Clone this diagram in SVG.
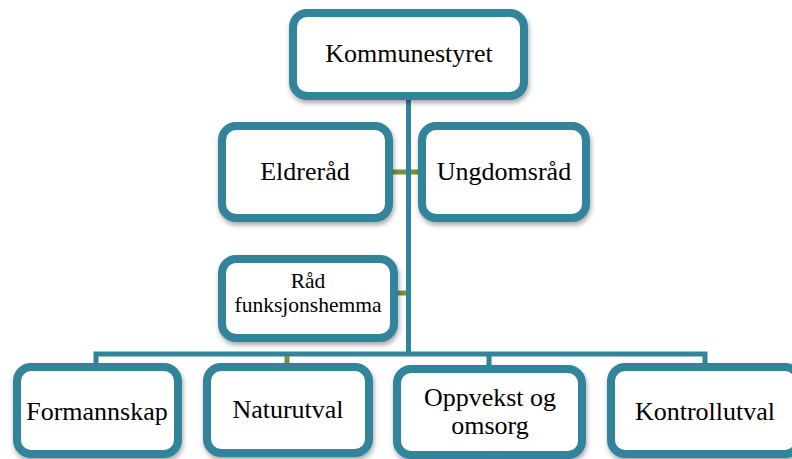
<svg xmlns="http://www.w3.org/2000/svg" width="792" height="459" viewBox="0 0 792 459">
<defs>
<filter id="sh" x="-10%" y="-10%" width="130%" height="140%">
<feDropShadow dx="1" dy="3" stdDeviation="2.5" flood-color="#000" flood-opacity="0.35"/>
</filter>
</defs>
<style>
.box{fill:#fff;stroke:#31849b;stroke-width:8;filter:url(#sh)}
.t{font-family:"Liberation Serif","Times New Roman",serif;font-size:26px;fill:#000;text-anchor:middle}
.ts{font-family:"Liberation Serif","Times New Roman",serif;font-size:21.5px;fill:#000;text-anchor:middle}
.c{fill:none;stroke:#31849b;stroke-width:5}
.g{fill:none;stroke:#77933c;stroke-width:5}
</style>
<rect width="792" height="459" fill="#fff"/>
<g id="connectors">
<path class="g" d="M393 172H418M398 293H408M287 354V363"/>
<path class="c" d="M408.5 100V354M96 365V354H705V365M489 354V366"/>
</g>
<g id="kommunestyret">
<rect class="box" x="293" y="13" width="231" height="83" rx="14"/>
<text class="t" x="409" y="62">Kommunestyret</text>
</g>
<g id="eldrerad">
<rect class="box" x="222" y="126" width="167" height="92" rx="14"/>
<text class="t" x="305" y="180">Eldreråd</text>
</g>
<g id="ungdomsrad">
<rect class="box" x="422" y="126" width="164" height="92" rx="14"/>
<text class="t" x="504" y="180">Ungdomsråd</text>
</g>
<g id="rad-funksjonshemma">
<rect class="box" x="222" y="259" width="172" height="79" rx="14"/>
<text class="ts" x="308" y="288">Råd</text>
<text class="ts" x="308" y="312">funksjonshemma</text>
</g>
<g id="formannskap">
<rect class="box" x="17" y="367" width="161" height="87" rx="14"/>
<text class="t" x="97" y="420">Formannskap</text>
</g>
<g id="naturutval">
<rect class="box" x="207" y="367" width="162" height="86" rx="14"/>
<text class="t" x="288" y="418">Naturutval</text>
</g>
<g id="oppvekst">
<rect class="box" x="397" y="369" width="185" height="86" rx="14"/>
<text class="t" x="490" y="406">Oppvekst og</text>
<text class="t" x="490" y="434">omsorg</text>
</g>
<g id="kontrollutval">
<rect class="box" x="611" y="367" width="188" height="87" rx="14"/>
<text class="t" x="705" y="420">Kontrollutval</text>
</g>
</svg>
